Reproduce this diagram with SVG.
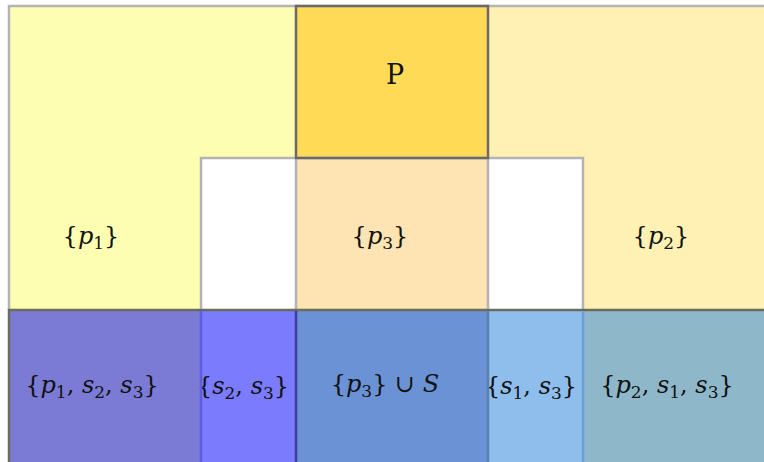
<svg xmlns="http://www.w3.org/2000/svg" width="764" height="462" viewBox="0 0 764 462">
<style>
text{font-family:'DejaVu Serif',serif;font-size:24px;fill:#111111;text-anchor:middle}
.i{font-style:italic}
.s{font-size:17px;font-style:normal}
.lg{stroke:#b3b3b3;stroke-width:2.5;fill:none}
.dk{stroke:#6a6a6a;stroke-width:2.5;fill:none}
</style>
<rect width="764" height="462" fill="#ffffff"/>
<g id="cell-p1">
<path d="M9 6H296V158H201V310H9Z" fill="#fefeb2"/>
<text x="91" y="244">{<tspan class="i">p</tspan><tspan class="s" dy="5">1</tspan><tspan dy="-5">}</tspan></text>
</g>
<g id="cell-P">
<rect x="296" y="6" width="192" height="152" fill="#ffda57"/>
<text x="395" y="84" style="font-size:27px">P</text>
</g>
<g id="cell-p2">
<path d="M488 6H764V310H583V158H488Z" fill="#fef1b3"/>
<text x="661" y="244">{<tspan class="i">p</tspan><tspan class="s" dy="5">2</tspan><tspan dy="-5">}</tspan></text>
</g>
<g id="cell-white">
<rect x="201" y="158" width="95" height="152" fill="#ffffff"/>
<rect x="488" y="158" width="95" height="152" fill="#ffffff"/>
</g>
<g id="cell-p3">
<rect x="296" y="158" width="192" height="152" fill="#fee3b3"/>
<text x="380" y="244">{<tspan class="i">p</tspan><tspan class="s" dy="5">3</tspan><tspan dy="-5">}</tspan></text>
</g>
<g id="cell-p1s2s3">
<rect x="9" y="310" width="192" height="152" fill="#7b7bd6"/>
<text x="92" y="393">{<tspan class="i">p</tspan><tspan class="s" dy="5">1</tspan><tspan dy="-5">, </tspan><tspan class="i">s</tspan><tspan class="s" dy="5">2</tspan><tspan dy="-5">, </tspan><tspan class="i">s</tspan><tspan class="s" dy="5">3</tspan><tspan dy="-5">}</tspan></text>
</g>
<g id="cell-s2s3">
<rect x="201" y="310" width="95" height="152" fill="#7b7bfe"/>
<text x="243" y="394">{<tspan class="i">s</tspan><tspan class="s" dy="5">2</tspan><tspan dy="-5">, </tspan><tspan class="i">s</tspan><tspan class="s" dy="5">3</tspan><tspan dy="-5">}</tspan></text>
</g>
<g id="cell-p3S">
<rect x="296" y="310" width="192" height="152" fill="#6a92d4"/>
<text x="385" y="392">{<tspan class="i">p</tspan><tspan class="s" dy="5">3</tspan><tspan dy="-5">} ∪ </tspan><tspan class="i">S</tspan></text>
</g>
<g id="cell-s1s3">
<rect x="488" y="310" width="95" height="152" fill="#8fbeec"/>
<text x="531" y="394">{<tspan class="i">s</tspan><tspan class="s" dy="5">1</tspan><tspan dy="-5">, </tspan><tspan class="i">s</tspan><tspan class="s" dy="5">3</tspan><tspan dy="-5">}</tspan></text>
</g>
<g id="cell-p2s1s3">
<rect x="583" y="310" width="181" height="152" fill="#8eb8ca"/>
<text x="667" y="393">{<tspan class="i">p</tspan><tspan class="s" dy="5">2</tspan><tspan dy="-5">, </tspan><tspan class="i">s</tspan><tspan class="s" dy="5">1</tspan><tspan dy="-5">, </tspan><tspan class="i">s</tspan><tspan class="s" dy="5">3</tspan><tspan dy="-5">}</tspan></text>
</g>
<g id="connectors">
<path class="lg" d="M9 310V6H766"/>
<path class="lg" d="M201 310V158H583V310"/>
<path class="lg" d="M296 158V310M488 158V310"/>
<rect class="dk" x="296" y="6" width="192" height="152"/>
<path stroke="#6b6b5e" stroke-width="2.5" fill="none" d="M9 464V310H766"/>
<path stroke="#5c5ce6" stroke-width="2.5" d="M201 311V464"/>
<path stroke="#3d3d9e" stroke-width="2.5" d="M296 311V464"/>
<path stroke="#5683b0" stroke-width="2.5" d="M488 311V464"/>
<path stroke="#6e9ed6" stroke-width="2.5" d="M583 311V464"/>
</g>
</svg>
